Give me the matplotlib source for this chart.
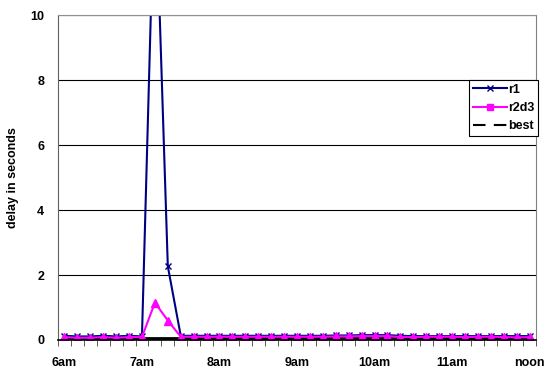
import numpy as np
from matplotlib import pyplot as plt
from matplotlib.lines import Line2D

plt.rcParams['font.family'] = ['Liberation Sans', 'DejaVu Sans']

## Data ##
hour_labels = ['6am', '7am', '8am', '9am', '10am', '11am', 'noon']
# one point every 10 minutes, 6am -> noon
r1 = [0.13, 0.11, 0.11, 0.13, 0.11, 0.13, 0.11, 14.6, 2.27, 0.13,
      0.13, 0.13, 0.13, 0.13, 0.13, 0.13, 0.13, 0.13, 0.13, 0.13,
      0.13, 0.14, 0.14, 0.15, 0.15, 0.15, 0.13, 0.12, 0.12, 0.12,
      0.12, 0.12, 0.12, 0.12, 0.12, 0.12, 0.12]
r2d3 = [0.09, 0.07, 0.07, 0.09, 0.07, 0.09, 0.09, 1.15, 0.6, 0.1,
        0.1, 0.1, 0.1, 0.1, 0.1, 0.1, 0.1, 0.1, 0.1, 0.1,
        0.1, 0.11, 0.11, 0.12, 0.12, 0.12, 0.09, 0.09, 0.1, 0.1,
        0.1, 0.09, 0.1, 0.1, 0.09, 0.08, 0.09]
best = [0.07] * 37

x = np.arange(len(r1))

fig = plt.figure(figsize=(5.47, 3.69), dpi=100)
ax = fig.add_axes([0.106, 0.0786, 0.874, 0.8805])

ax.plot(x, best, color='black', lw=2)
ax.plot(x, r1, color='#000080', lw=1.5, marker='x', ms=5, mew=1)
ax.plot(x, r2d3, color='#ff00ff', lw=1.5, marker='^', ms=6)

ax.set_ylim(0, 10)
ax.set_xlim(-0.5, len(r1) - 0.5)
ax.set_yticks(range(0, 11, 2))
ax.set_xticks(range(0, 37, 6))
ax.set_xticklabels(hour_labels)
ax.set_xticks(np.arange(-0.5, 37, 1), minor=True)
ax.tick_params(axis='x', which='major', length=0, pad=12, labelsize=9)
ax.tick_params(axis='x', which='minor', length=4, direction='out', color='#404040')
ax.tick_params(axis='y', length=0, pad=10, labelsize=9)
for lab in ax.get_xticklabels() + ax.get_yticklabels():
    lab.set_fontweight('bold')

ax.yaxis.grid(True, color='black', lw=0.8)
ax.set_axisbelow(True)
ax.spines['left'].set_color('#606060')
ax.spines['top'].set_color('#909090')
ax.spines['right'].set_color('#808080')
ax.spines['bottom'].set_color('black')
ax.spines['bottom'].set_linewidth(1.2)

ax.set_ylabel('delay in seconds', fontsize=9, fontweight='bold', labelpad=8)

handles = [Line2D([], [], color='#000080', lw=1.5, marker='x', ms=5),
           Line2D([], [], color='#ff00ff', lw=1.5, marker='s', ms=4),
           Line2D([], [], color='black', lw=1.5, dashes=(6, 4))]
leg = ax.legend(handles, ['r1', 'r2d3', 'best'], loc='upper left',
                bbox_to_anchor=(0.86, 0.80), fancybox=False, framealpha=1,
                edgecolor='black', prop={'weight': 'bold', 'size': 9},
                handlelength=2.7, handletextpad=0.1, borderpad=0.3,
                labelspacing=0.5, borderaxespad=0)
leg.get_frame().set_linewidth(0.8)

plt.savefig('out.png', dpi=100)
